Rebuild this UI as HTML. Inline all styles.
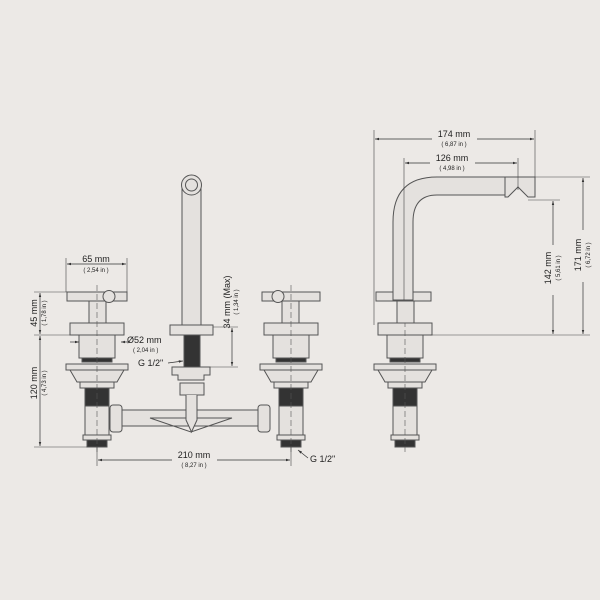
<!DOCTYPE html>
<html><head><meta charset="utf-8"><style>
html,body{margin:0;padding:0;background:#ece9e6;}
svg{display:block}
text{font-family:"Liberation Sans",sans-serif;fill:#222}
.s{font-size:6px}
</style></head><body>
<svg width="600" height="600" viewBox="0 0 600 600" xmlns="http://www.w3.org/2000/svg">
<rect width="600" height="600" fill="#ece9e6"/>
<defs>
<marker id="a" viewBox="0 0 10 10" refX="10" refY="5" markerWidth="6" markerHeight="6" orient="auto-start-reverse"><path d="M0,2 L10,5 L0,8z" fill="#333"/></marker>
<g id="v" fill="#e4e1de" stroke="#555" stroke-width="1">
<rect x="-27" y="323" width="54" height="12"/>
<rect x="-18" y="335" width="36" height="23"/>
<rect x="-15" y="358" width="30" height="4" fill="#333"/>
<rect x="-31" y="364" width="62" height="6"/>
<path d="M-27,370 L27,370 L20,382 L-20,382z"/>
<rect x="-17" y="382" width="34" height="6"/>
<rect x="-12" y="388" width="24" height="18" fill="#333"/>
<rect x="-12" y="406" width="24" height="29"/>
<rect x="-14" y="435" width="28" height="5"/>
<rect x="-10" y="440" width="20" height="7" fill="#333"/>
<line x1="0" y1="285" x2="0" y2="452" stroke-dasharray="6,3" stroke-width="0.6"/>
</g>
</defs>
<g stroke="#555" stroke-width="1" fill="#e4e1de">
<!-- handles front -->
<rect x="67" y="292" width="60" height="9"/>
<rect x="89" y="301" width="17" height="22"/>
<circle cx="109" cy="296.5" r="6"/>
<rect x="262" y="292" width="58" height="9"/>
<rect x="282" y="301" width="17" height="22"/>
<circle cx="278" cy="296.5" r="6"/>
<!-- horizontal pipe -->
<rect x="110" y="410" width="160" height="16"/>
<path d="M150,418 L232,418 L191,432z" fill="none"/>
<rect x="110" y="405" width="12" height="27" rx="3"/>
<rect x="258" y="405" width="12" height="27" rx="3"/>
</g>
<use href="#v" x="97"/>
<use href="#v" x="291"/>
<use href="#v" x="405"/>
<g stroke="#555" stroke-width="1" fill="#e4e1de">
<!-- centre spout -->
<rect x="182" y="185" width="19" height="140"/>
<circle cx="191.5" cy="185" r="10"/>
<circle cx="191.5" cy="185" r="6"/>
<rect x="170" y="325" width="43" height="10"/>
<rect x="184" y="335" width="16" height="32" fill="#333"/>
<path d="M172,367 h38 v8 h-6 v5 h-26 v-5 h-6z"/>
<rect x="180" y="383" width="24" height="12"/>
<path d="M186,395 v25 l5.5,12 l5.5,-12 v-25"/>
<!-- side view -->
<rect x="376" y="292" width="55" height="9"/>
<circle cx="404" cy="296.5" r="6"/>
<rect x="397" y="301" width="17" height="22"/>
<path d="M393,300 L393,222 Q393,177 437,177 L505,177 L505,195 L437,195 Q413,195 413,222 L413,300z"/>
<path d="M505,177 L535,177 L535,197 L528,197 L518,187 L508,197 L505,197z"/>
</g>
<g stroke="#444" stroke-width="0.6" fill="none">
<line x1="374" y1="130" x2="374" y2="325"/><line x1="535" y1="130" x2="535" y2="177"/>
<line x1="404" y1="158" x2="404" y2="300"/><line x1="518" y1="158" x2="518" y2="190"/>
<line x1="535" y1="177" x2="590" y2="177"/><line x1="528" y1="200" x2="560" y2="200"/>
<line x1="430" y1="335" x2="590" y2="335"/>
<line x1="66" y1="258" x2="66" y2="292"/><line x1="127" y1="258" x2="127" y2="292"/>
<line x1="34" y1="292" x2="67" y2="292"/><line x1="34" y1="335" x2="70" y2="335"/><line x1="34" y1="447" x2="87" y2="447"/>
<line x1="97" y1="447" x2="97" y2="466"/><line x1="291" y1="447" x2="291" y2="466"/>
<line x1="213" y1="327" x2="238" y2="327"/><line x1="210" y1="367" x2="238" y2="367"/>
</g>
<g stroke="#333" stroke-width="0.7" marker-start="url(#a)" marker-end="url(#a)">
<line x1="375" y1="139" x2="534" y2="139"/>
<line x1="405" y1="163" x2="517" y2="163"/>
<line x1="553" y1="201" x2="553" y2="334"/>
<line x1="583" y1="178" x2="583" y2="334"/>
<line x1="67" y1="264" x2="126" y2="264"/>
<line x1="40" y1="293" x2="40" y2="334"/>
<line x1="40" y1="336" x2="40" y2="446"/>
<line x1="98" y1="460" x2="290" y2="460"/>
<line x1="232" y1="328" x2="232" y2="366"/>
</g>
<g stroke="#333" stroke-width="0.7" marker-end="url(#a)">
<line x1="130" y1="342" x2="121" y2="342"/>
<line x1="70" y1="342" x2="79" y2="342"/>
<line x1="168" y1="363" x2="183" y2="361"/>
<line x1="308" y1="458" x2="298" y2="450"/>
</g>
<g rect fill="#ece9e6">
<rect x="432" y="127" width="45" height="22" fill="#ece9e6"/>
<rect x="430" y="151" width="45" height="22" fill="#ece9e6"/>
<rect x="542" y="245" width="22" height="50" fill="#ece9e6"/>
<rect x="572" y="230" width="22" height="52" fill="#ece9e6"/>
<rect x="172" y="452" width="45" height="18" fill="#ece9e6"/>
</g>
<text x="454" y="137" font-size="9" text-anchor="middle">174 mm</text>
<text x="454" y="146" class="s" text-anchor="middle">( 6,87 in )</text>
<text x="452" y="161" font-size="9" text-anchor="middle">126 mm</text>
<text x="452" y="170" class="s" text-anchor="middle">( 4,98 in )</text>
<text transform="translate(551,268) rotate(-90)" font-size="9" text-anchor="middle">142 mm</text>
<text transform="translate(560,268) rotate(-90)" class="s" text-anchor="middle">( 5,61 in )</text>
<text transform="translate(581,255) rotate(-90)" font-size="9" text-anchor="middle">171 mm</text>
<text transform="translate(590,255) rotate(-90)" class="s" text-anchor="middle">( 6,72 in )</text>
<text x="96" y="262" font-size="9" text-anchor="middle">65 mm</text>
<text x="96" y="272" class="s" text-anchor="middle">( 2,54 in )</text>
<text transform="translate(37,313) rotate(-90)" font-size="9" text-anchor="middle">45 mm</text>
<text transform="translate(46,313) rotate(-90)" class="s" text-anchor="middle">( 1,78 in )</text>
<text transform="translate(37,383) rotate(-90)" font-size="9" text-anchor="middle">120 mm</text>
<text transform="translate(46,383) rotate(-90)" class="s" text-anchor="middle">( 4,73 in )</text>
<text transform="translate(230,302) rotate(-90)" font-size="9" text-anchor="middle">34 mm (Max)</text>
<text transform="translate(238,302) rotate(-90)" class="s" text-anchor="middle">( 1,34 in )</text>
<text x="127" y="343" font-size="9">Ø52 mm</text>
<text x="133" y="352" class="s">( 2,04 in )</text>
<text x="138" y="366" font-size="9">G 1/2"</text>
<text x="194" y="458" font-size="9" text-anchor="middle">210 mm</text>
<text x="194" y="467" class="s" text-anchor="middle">( 8,27 in )</text>
<text x="310" y="462" font-size="9">G 1/2"</text>
</svg>
</body></html>
